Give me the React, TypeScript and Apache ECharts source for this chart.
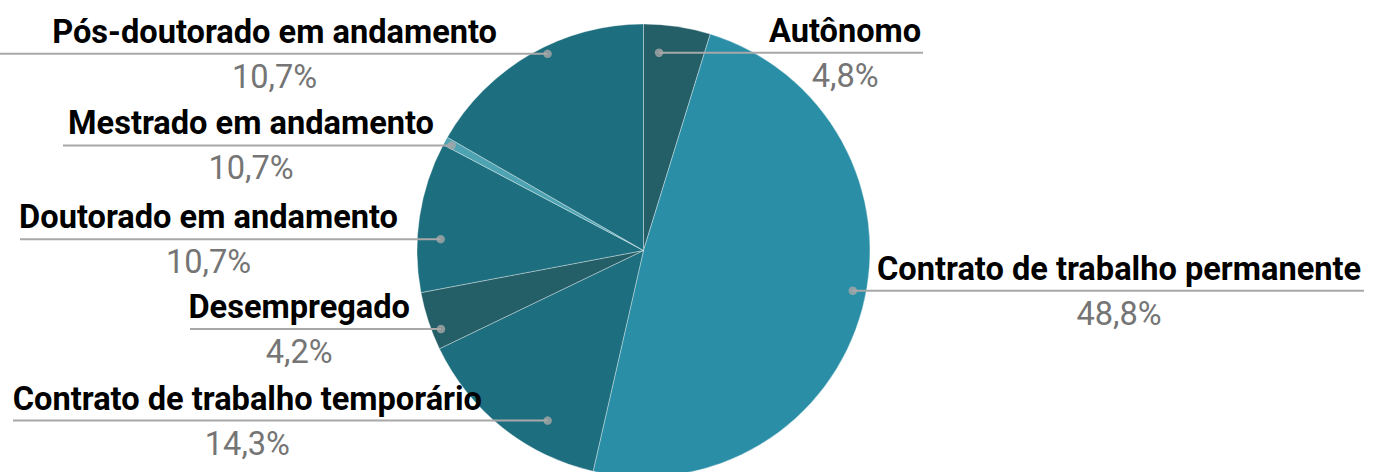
import React, { useEffect, useRef } from "react";
import * as echarts from "echarts";

// ---- data ----
const categories = [
  "Autônomo",
  "Contrato de trabalho permanente",
  "Contrato de trabalho temporário",
  "Desempregado",
  "Doutorado em andamento",
  "Mestrado em andamento",
  "Pós-doutorado em andamento",
];
const counts = [8, 82, 24, 7, 18, 1, 28];
const percentLabels = ["4,8%", "48,8%", "14,3%", "4,2%", "10,7%", "10,7%", "10,7%"];

// ---- styles / layout ----
const sliceColors = ["#245f68", "#2b8ea7", "#1d6e7e", "#245f68", "#1d6e7e", "#4ea3b3", "#1d6e7e"];
const CX = 643.5;
const CY = 250.5;
const R = 226.5;
// label anchor (dot) in polar terms: angle clockwise from 12 o'clock, radius fraction
const anchorAngle = [4.5, 100.9, 209.4, 248.8, 273.2, 298.7, 334.0];
const anchorRadius = [0.876, 0.941, 0.862, 0.959, 0.897, 0.966, 0.966];
// x of the text edge nearest to the pie, and x where the leader line ends
const textEdge = [769, 877, 482, 410, 398, 434, 497];
const lineEnd = [923, 1364, 13, 190, 20, 63, 0];

function anchorXY(i: number): [number, number] {
  const a = (anchorAngle[i] * Math.PI) / 180;
  const r = anchorRadius[i] * R;
  return [CX + r * Math.sin(a), CY - r * Math.cos(a)];
}

export default function App() {
  const ref = useRef<HTMLDivElement>(null);
  useEffect(() => {
    if (!ref.current) return;
    const chart = echarts.init(ref.current, undefined, { renderer: "svg" });
    chart.setOption({
      animation: false,
      backgroundColor: "#ffffff",
      polar: { center: [CX, CY], radius: R },
      angleAxis: { type: "value", min: 0, max: 360, startAngle: 90, clockwise: true, show: false },
      radiusAxis: { type: "value", min: 0, max: 1, show: false },
      series: [
        {
          // slices
          type: "pie",
          center: [CX, CY],
          radius: R,
          startAngle: 90,
          clockwise: true,
          data: categories.map((name, i) => ({
            name,
            value: counts[i],
            itemStyle: { color: sliceColors[i] },
          })),
          itemStyle: { borderColor: "rgba(255,255,255,0.35)", borderWidth: 1 },
          emphasis: { disabled: true },
          label: { show: false },
          labelLine: { show: false },
          silent: true,
          z: 1,
        },
        {
          // labels and leader lines, drawn above the slices
          type: "pie",
          center: [CX, CY],
          radius: R,
          startAngle: 90,
          clockwise: true,
          avoidLabelOverlap: false,
          data: categories.map((name, i) => ({ name, value: counts[i] })),
          itemStyle: { color: "rgba(0,0,0,0)", borderWidth: 0 },
          emphasis: { disabled: true },
          silent: true,
          label: {
            show: true,
            position: "outside",
            formatter: (p: any) => `{name|${p.name}}\n{pct|${percentLabels[p.dataIndex]}}`,
            rich: {
              name: {
                fontFamily: "Roboto",
                fontWeight: "bold",
                fontSize: 32.6,
                color: "#000000",
                lineHeight: 46,
                align: "center",
              },
              pct: {
                fontFamily: "Roboto",
                fontSize: 32.6,
                color: "#757575",
                lineHeight: 44,
                align: "center",
              },
            },
          },
          labelLine: {
            show: true,
            showAbove: true,
            smooth: false,
            lineStyle: { color: "#a8a8a8", width: 2 },
          },
          labelLayout: (params: any) => {
            const i = params.dataIndex;
            const [dx, dy] = anchorXY(i);
            const right = anchorAngle[i] < 180;
            return {
              x: textEdge[i],
              y: dy,
              align: right ? "left" : "right",
              verticalAlign: "middle",
              labelLinePoints: [
                [dx, dy],
                [(dx + lineEnd[i]) / 2, dy],
                [lineEnd[i], dy],
              ],
            };
          },
          z: 3,
        },
        {
          type: "scatter",
          coordinateSystem: "polar",
          data: categories.map((_, i) => [anchorRadius[i], anchorAngle[i]]),
          symbol: "circle",
          symbolSize: 8.5,
          itemStyle: { color: "#a8a8a8" },
          silent: true,
          z: 5,
        },
      ],
    });
    return () => chart.dispose();
  }, []);
  return (
    <div
      ref={ref}
      style={{ position: "absolute", left: 0, top: 0, width: 1379, height: 472 }}
    />
  );
}
